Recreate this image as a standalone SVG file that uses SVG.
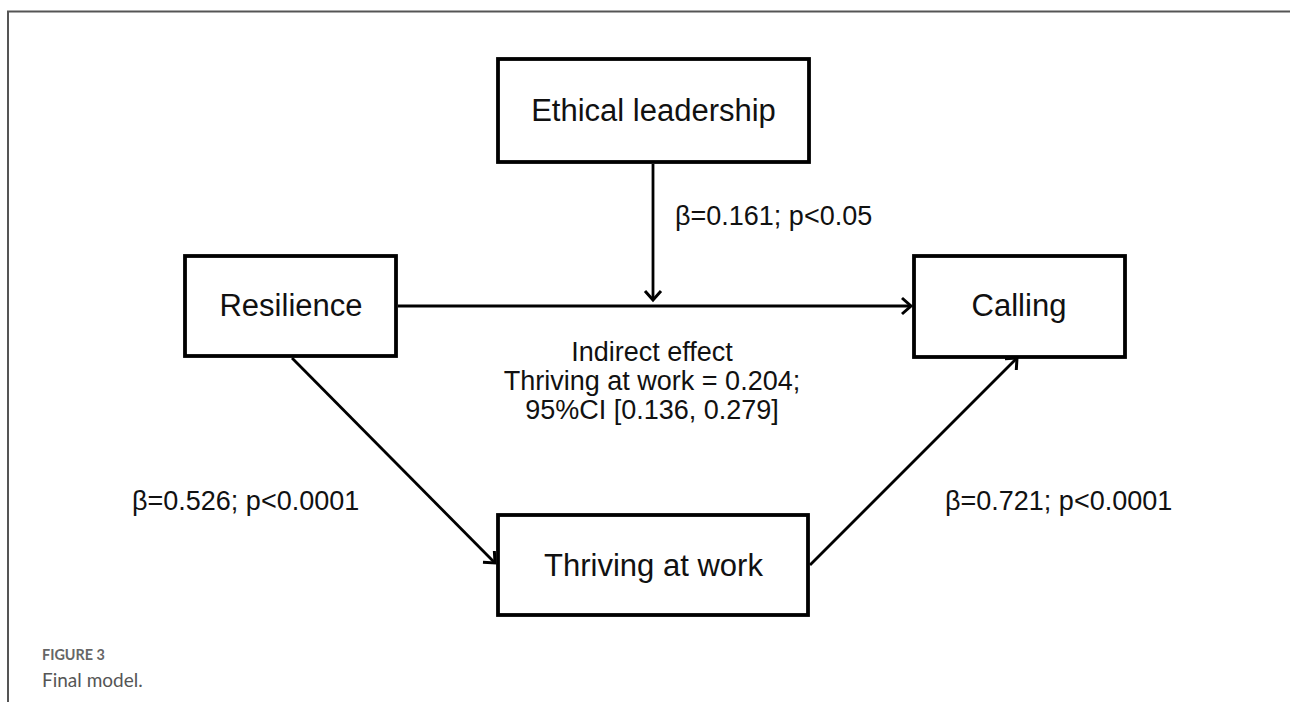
<svg xmlns="http://www.w3.org/2000/svg" width="1290" height="702" viewBox="0 0 1290 702">
<style>
.box{fill:#fff;stroke:#000;stroke-width:3.8}
.lbl{font-family:"Liberation Sans",Arial,sans-serif;font-size:31px;fill:#111;text-anchor:middle}
.elbl{font-family:"Liberation Sans",Arial,sans-serif;font-size:27px;fill:#111}
.conn{stroke:#000;stroke-width:2.8;fill:none}
.frame{stroke:#555;stroke-width:2;fill:none}
</style>
<defs>
<marker id="arr" markerUnits="userSpaceOnUse" markerWidth="20" markerHeight="20" viewBox="0 0 20 20" refX="14" refY="10" orient="auto">
<path d="M5,2 L14,10 L5,18" fill="none" stroke="#000" stroke-width="3"/>
</marker>
</defs>
<rect width="1290" height="702" fill="#fff"/>
<path class="frame" d="M8,702 L8,11.5 L1290,11.5"/>
<g id="connectors">
<line class="conn" x1="398" y1="306" x2="911" y2="306" marker-end="url(#arr)"/>
<line class="conn" x1="653" y1="164" x2="653" y2="300" marker-end="url(#arr)"/>
<line class="conn" x1="292" y1="358" x2="495" y2="563" marker-end="url(#arr)"/>
<line class="conn" x1="810" y1="565" x2="1017" y2="358" marker-end="url(#arr)"/>
</g>
<g id="ethical">
<rect class="box" x="498" y="59" width="311" height="103"/>
<text class="lbl" x="653.5" y="121">Ethical leadership</text>
</g>
<g id="resilience">
<rect class="box" x="185" y="256" width="211" height="100"/>
<text class="lbl" x="291" y="316">Resilience</text>
</g>
<g id="calling">
<rect class="box" x="914" y="256" width="211" height="101"/>
<text class="lbl" x="1019" y="316">Calling</text>
</g>
<g id="thriving">
<rect class="box" x="498" y="515" width="310" height="100"/>
<text class="lbl" x="653.5" y="576">Thriving at work</text>
</g>
<g id="labels">
<text class="elbl" x="675" y="225">β=0.161; p&lt;0.05</text>
<text class="elbl" x="132" y="510">β=0.526; p&lt;0.0001</text>
<text class="elbl" x="945" y="510">β=0.721; p&lt;0.0001</text>
<text class="elbl" text-anchor="middle" x="652" y="361">Indirect effect</text>
<text class="elbl" text-anchor="middle" x="652" y="390">Thriving at work = 0.204;</text>
<text class="elbl" text-anchor="middle" x="652" y="419">95%CI [0.136, 0.279]</text>
</g>
<g id="caption">
<text x="42" y="660" font-family="Lato,'Open Sans',sans-serif" font-weight="bold" font-size="14.4" fill="#666">FIGURE 3</text>
<text x="42" y="687" font-family="Lato,'Open Sans',sans-serif" font-size="19" fill="#555">Final model.</text>
</g>
</svg>
